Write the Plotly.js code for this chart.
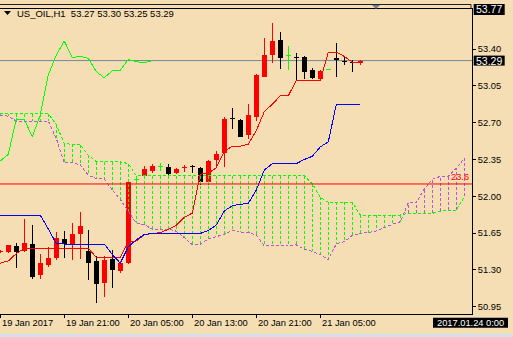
<!DOCTYPE html>
<html><head><meta charset="utf-8">
<script src="https://cdn.plot.ly/plotly-3.0.1.min.js"></script>
<style>html,body{margin:0;padding:0;background:#F5DEB3;}#chart{width:513px;height:337px;}
#chart path.js-line{shape-rendering:crispEdges;}
#chart .point path{shape-rendering:crispEdges;}</style>
</head><body><div id="chart"></div>
<script>
// ---------- data ----------
const symbolTitle = 'US_OIL,H1';
const lastQuote = ['53.27', '53.30', '53.25', '53.29'];
const xTickBars = [0, 8, 16, 24, 32, 40];
const xTickLabels = ['19 Jan 2017', '19 Jan 21:00', '20 Jan 05:00', '20 Jan 13:00', '20 Jan 21:00', '21 Jan 05:00'];
const yTickVals = [50.95, 51.30, 51.65, 52.00, 52.35, 52.70, 53.05, 53.40];
const topPriceLabel = '53.77';
const bidPrice = 53.29;
const fibPrice = 52.117;
const fibLabel = '23.6';
const timeLabel = '2017.01.24 0:00';

const open = [51.47, 51.467, 51.53, 51.483, 51.546, 51.249, 51.347, 51.413, 51.594, 51.537, 51.644, 51.483, 51.388, 51.173, 51.401, 51.293, 51.363, 52.155, 52.193, 52.243, 52.275, 52.281, 52.218, 52.27, 52.29, 52.266, 52.139, 52.345, 52.409, 52.735, 52.725, 52.582, 52.756, 53.137, 53.343, 53.486, 53.331, 53.32, 53.327, 53.20, 53.115, 53.20, 53.31, 53.29, 53.28, 53.27];
const high = [51.49, 51.54, 51.56, 51.78, 51.73, 51.45, 51.52, 51.66, 51.67, 51.75, 51.85, 51.68, 51.43, 51.43, 51.49, 51.385, 52.14, 52.18, 52.29, 52.31, 52.32, 52.31, 52.265, 52.30, 52.30, 52.275, 52.345, 52.43, 52.75, 52.835, 52.735, 52.875, 53.16, 53.50, 53.645, 53.565, 53.43, 53.36, 53.33, 53.215, 53.20, 53.20, 53.455, 53.32, 53.30, 53.30];
const low = [51.46, 51.46, 51.32, 51.47, 51.21, 51.215, 51.325, 51.39, 51.41, 51.395, 51.405, 51.205, 50.99, 51.045, 51.125, 51.275, 51.36, 52.15, 52.165, 52.225, 52.245, 52.20, 52.21, 52.23, 52.225, 52.105, 52.11, 52.275, 52.275, 52.635, 52.56, 52.545, 52.715, 53.13, 53.27, 53.21, 53.20, 53.095, 53.115, 53.115, 53.11, 53.20, 53.13, 53.25, 53.185, 53.25];
const close = [51.48, 51.537, 51.473, 51.559, 51.236, 51.363, 51.413, 51.606, 51.546, 51.641, 51.72, 51.369, 51.163, 51.394, 51.299, 51.369, 52.139, 52.155, 52.256, 52.288, 52.275, 52.209, 52.259, 52.28, 52.28, 52.139, 52.335, 52.402, 52.735, 52.73, 52.566, 52.773, 53.153, 53.343, 53.476, 53.317, 53.331, 53.31, 53.184, 53.127, 53.191, 53.20, 53.30, 53.28, 53.27, 53.29];

const tenkan = [51.365, 51.385, 51.455, 51.505, 51.505, 51.505, 51.505, 51.505, 51.505, 51.505, 51.505, 51.505, 51.42, 51.42, 51.42, 51.42, 51.565, 51.575, 51.635, 51.645, 51.655, 51.685, 51.725, 51.80, 51.84, 52.21, 52.22, 52.27, 52.43, 52.475, 52.475, 52.495, 52.625, 52.805, 52.875, 52.955, 52.955, 53.10, 53.10, 53.10, 53.10, 53.37, 53.37, 53.33, 53.275, 53.275];
const kijun = [51.82, 51.82, 51.82, 51.82, 51.82, 51.82, 51.69, 51.55, 51.546, 51.546, 51.546, 51.546, 51.546, 51.546, 51.445, 51.365, 51.52, 51.586, 51.637, 51.647, 51.647, 51.647, 51.647, 51.647, 51.647, 51.647, 51.673, 51.727, 51.86, 51.91, 51.924, 51.933, 52.06, 52.25, 52.31, 52.31, 52.31, 52.31, 52.35, 52.38, 52.47, 52.517, 52.874, 52.874, 52.874, 52.874];
const chikou = [52.335, 52.40, 52.735, 52.73, 52.566, 52.773, 53.153, 53.343, 53.476, 53.317, 53.331, 53.31, 53.184, 53.127, 53.191, 53.20, 53.30, 53.28, 53.27, 53.29];
const spanA = [52.785, 52.785, 52.785, 52.785, 52.785, 52.785, 52.785,
  52.68, 52.50, 52.495, 52.49, 52.39,
  52.328, 52.328, 52.328, 52.328, 52.31,
  52.195, 52.195, 52.195, 52.195, 52.195, 52.195, 52.195, 52.195, 52.195, 52.195, 52.195,
  52.195, 52.195, 52.195, 52.195, 52.195, 52.195, 52.195, 52.195, 52.195, 52.195, 52.195,
  52.12, 51.99, 51.943, 51.943, 51.943, 51.943,
  51.822, 51.822, 51.822, 51.822, 51.822, 51.822,
  51.838, 51.838, 51.838, 51.838, 51.858, 51.868, 51.868, 51.998];
const spanB = [52.77, 52.762, 52.715, 52.715, 52.715, 52.715, 52.715,
  52.55, 52.32, 52.32, 52.298, 52.20, 52.17, 52.165, 52.06, 51.97,
  51.86, 51.745, 51.73, 51.688, 51.688, 51.688, 51.668, 51.608, 51.538, 51.545,
  51.595, 51.618, 51.638, 51.678, 51.658, 51.655, 51.633,
  51.528, 51.528, 51.528, 51.528, 51.538, 51.497, 51.477, 51.445, 51.397,
  51.548, 51.568, 51.628, 51.648, 51.655, 51.67, 51.703, 51.733, 51.758,
  51.938, 51.938, 52.07, 52.16, 52.19, 52.19, 52.265, 52.36];

// ---------- styling ----------
const BG = '#F5DEB3', RED = '#FF0000', BLACK = '#000000', LIME = '#00FF00', VIOLET = '#BA55D3', BLUE = '#0000FF';
const FONT = 'Liberation Sans, Arial, sans-serif';
const W = 513, H = 337, ML = 0, MR = 41, MT = 9, MB = 23;
const PW = W - ML - MR, PH = H - MT - MB;
const px = v => (v - ML) / PW;
const py = v => (H - MB - v) / PH;

const bars = open.map((_, i) => i);
const candleColor = bars.map(i => close[i] > open[i] ? RED : (close[i] < open[i] ? BLACK : LIME));

// wicks by colour
const wick = {};
[RED, BLACK, LIME].forEach(c => wick[c] = {x: [], y: []});
bars.forEach(i => { const w = wick[candleColor[i]]; w.x.push(i, i, null); w.y.push(low[i], high[i], null); });

// cloud hatching
const hatchG = {x: [], y: []}, hatchV = {x: [], y: []};
spanA.forEach((a, i) => { const b = spanB[i]; const t = a >= b ? hatchG : hatchV; t.x.push(i, i, null); t.y.push(a, b, null); });

const DASH = '3px,2px';
const traces = [];
[BLACK, RED, LIME].forEach(c => traces.push({type: 'scatter', mode: 'lines', x: wick[c].x, y: wick[c].y, line: {color: c, width: 1}, hoverinfo: 'skip', connectgaps: false}));
traces.push({type: 'bar', x: bars, base: bars.map(i => Math.min(open[i], close[i])),
  y: bars.map(i => Math.max(Math.abs(close[i] - open[i]), 0.01)), width: 0.62,
  marker: {color: candleColor, line: {width: 0}}, hoverinfo: 'skip'});
traces.push({type: 'scatter', mode: 'lines', x: hatchG.x, y: hatchG.y, line: {color: LIME, width: 1, dash: DASH}, hoverinfo: 'skip'});
traces.push({type: 'scatter', mode: 'lines', x: hatchV.x, y: hatchV.y, line: {color: VIOLET, width: 1, dash: DASH}, hoverinfo: 'skip'});
traces.push({type: 'scatter', mode: 'lines', x: spanA.map((_, i) => i), y: spanA, line: {color: LIME, width: 1, dash: DASH}, hoverinfo: 'skip'});
traces.push({type: 'scatter', mode: 'lines', x: spanB.map((_, i) => i), y: spanB, line: {color: VIOLET, width: 1, dash: DASH}, hoverinfo: 'skip'});
traces.push({type: 'scatter', mode: 'lines', x: bars, y: tenkan, line: {color: RED, width: 1}, hoverinfo: 'skip'});
traces.push({type: 'scatter', mode: 'lines', x: bars, y: kijun, line: {color: BLUE, width: 1}, hoverinfo: 'skip'});
traces.push({type: 'scatter', mode: 'lines', x: chikou.map((_, i) => i), y: chikou, line: {color: LIME, width: 1}, hoverinfo: 'skip'});

const shapes = [
  {type: 'line', xref: 'paper', yref: 'y', x0: 0, x1: 1, y0: bidPrice, y1: bidPrice, line: {color: '#778899', width: 1}, layer: 'below'},
  {type: 'line', xref: 'paper', yref: 'y', x0: 0, x1: 1, y0: fibPrice, y1: fibPrice, line: {color: RED, width: 1}, layer: 'above'},
  {type: 'line', xref: 'paper', yref: 'paper', x0: px(0), x1: px(471), y0: py(4.5), y1: py(4.5), line: {color: '#202020', width: 1}},
  {type: 'line', xref: 'paper', yref: 'paper', x0: px(471), x1: px(471), y0: py(4.5), y1: py(9), line: {color: '#202020', width: 1}},
  {type: 'path', xref: 'paper', yref: 'paper', path: `M ${px(372)} ${py(5)} L ${px(380)} ${py(5)} L ${px(376)} ${py(9)} Z`, fillcolor: '#6f7f8f', line: {width: 0}},
  {type: 'path', xref: 'paper', yref: 'paper', path: `M ${px(4)} ${py(11)} L ${px(11)} ${py(11)} L ${px(7.5)} ${py(15)} Z`, fillcolor: '#000', line: {width: 0}},
  {type: 'rect', xref: 'paper', yref: 'paper', x0: px(0), x1: px(513), y0: py(334), y1: py(337), fillcolor: '#d3e0ee', line: {width: 0}},
  {type: 'rect', xref: 'paper', yref: 'paper', x0: px(473.7), x1: px(504.7), y0: py(4), y1: py(15), fillcolor: '#000', line: {width: 0}},
  {type: 'rect', xref: 'paper', yref: 'paper', x0: px(473.7), x1: px(504.7), y0: py(55.6), y1: py(65.6), fillcolor: '#000', line: {width: 0}},
  {type: 'rect', xref: 'paper', yref: 'paper', x0: px(433), x1: px(508), y0: py(317.7), y1: py(327.7), fillcolor: '#000', line: {width: 0}}
];

const annotations = [
  {xref: 'paper', yref: 'paper', x: px(15), y: py(13.3), xanchor: 'left', yanchor: 'middle', showarrow: false,
   text: symbolTitle + '\u00a0\u00a0' + lastQuote.join(' '), font: {family: FONT, size: 9.5, color: '#000'}},
  {xref: 'paper', yref: 'paper', x: px(489.2), y: py(9.5), xanchor: 'center', yanchor: 'middle', showarrow: false,
   text: topPriceLabel, font: {family: FONT, size: 10.5, color: '#fff'}},
  {xref: 'paper', yref: 'y', x: px(489.2), y: bidPrice, xanchor: 'center', yanchor: 'middle', showarrow: false,
   text: bidPrice.toFixed(2), font: {family: FONT, size: 10.5, color: '#fff'}},
  {xref: 'paper', yref: 'paper', x: px(470.5), y: py(322.7), xanchor: 'center', yanchor: 'middle', showarrow: false,
   text: timeLabel, font: {family: FONT, size: 9.3, color: '#fff'}},
  {xref: 'paper', yref: 'y', x: px(471), y: fibPrice, yshift: 6.5, xanchor: 'right', yanchor: 'middle', showarrow: false,
   text: fibLabel, font: {family: FONT, size: 9.3, color: RED}}
];
xTickBars.forEach((b, k) => annotations.push({xref: 'x', yref: 'paper', x: b, y: py(322.5), xanchor: 'left', yanchor: 'middle',
  xshift: 0, showarrow: false, text: xTickLabels[k], font: {family: FONT, size: 9.3, color: '#000'}}));

const yTop = 53.40 + (49 - MT) / 105.2;
const yBot = 53.40 - (H - MB - 49) / 105.2;
const xLeft = -0.3 / 8, xRight = xLeft + PW / 8;

const layout = {
  width: W, height: H, margin: {l: ML, r: MR, t: MT, b: MB, pad: 0},
  paper_bgcolor: BG, plot_bgcolor: BG, showlegend: false, bargap: 0,
  font: {family: FONT, size: 9.3, color: '#000'},
  xaxis: {range: [xLeft, xRight], showgrid: false, zeroline: false, showline: true, mirror: true, linecolor: '#000', linewidth: 1,
    ticks: 'outside', ticklen: 3, tickcolor: '#000', tickvals: xTickBars, showticklabels: false, fixedrange: true},
  yaxis: {range: [yBot, yTop], side: 'right', showgrid: false, zeroline: false, showline: true, linecolor: '#000', linewidth: 1,
    ticks: 'outside', ticklen: 3, tickcolor: '#000', tickvals: yTickVals, ticktext: yTickVals.map(v => v.toFixed(2)),
    tickfont: {family: FONT, size: 9.3, color: '#000'}, fixedrange: true},
  shapes: shapes, annotations: annotations
};
Plotly.newPlot('chart', traces, layout, {staticPlot: true, displayModeBar: false});
</script></body></html>
